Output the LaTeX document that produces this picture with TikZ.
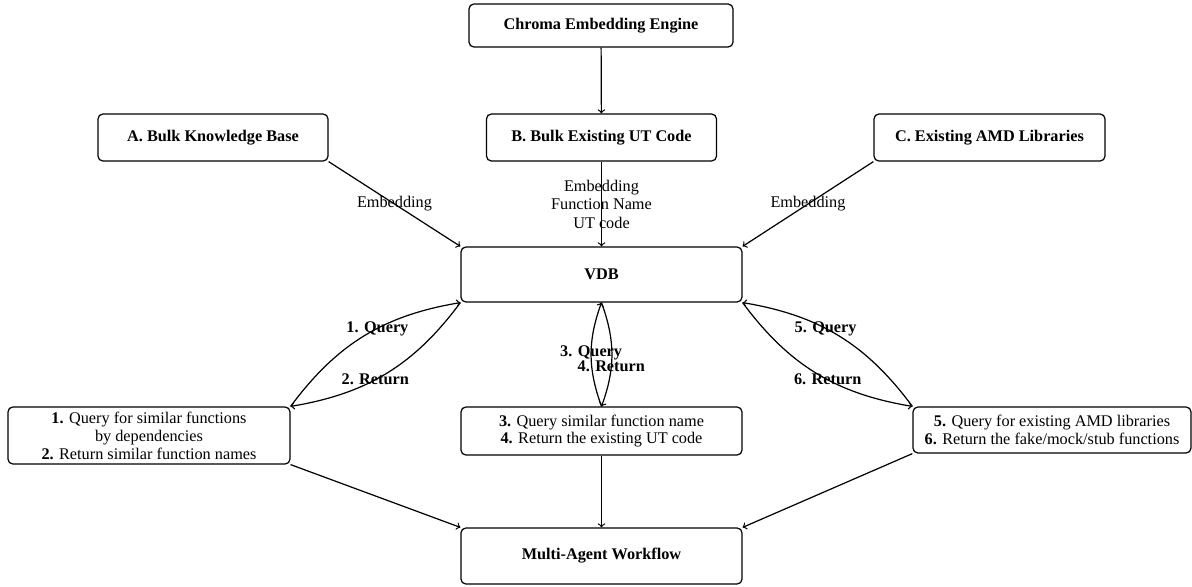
\documentclass[tikz,border=0pt]{standalone}
\usepackage{fontspec}
\setmainfont{Liberation Serif}
\begin{document}
\begin{tikzpicture}[x=0.615pt,y=-0.615pt,
  box/.style={draw, rounded corners=3pt, line width=0.75pt, align=center,
    font=\fontsize{10}{11}\selectfont, inner sep=2pt},
  conn/.style={->, line width=0.75pt},
  lbl/.style={font=\fontsize{10}{11.4}\selectfont, align=center},
  blbl/.style={font=\fontsize{10}{11}\selectfont\bfseries}]
\useasboundingbox (0,0) rectangle (1192,586);
% top row
\node[box, minimum width={264*0.615pt}, minimum height={43*0.615pt}] (chroma) at (601,25.5) {\textbf{Chroma Embedding Engine}};
\node[box, minimum width={230*0.615pt}, minimum height={47*0.615pt}] (kb) at (213,137.5) {\textbf{A. Bulk Knowledge Base}};
\node[box, minimum width={230*0.615pt}, minimum height={47*0.615pt}] (ut) at (601.5,137.5) {\textbf{B. Bulk Existing UT Code}};
\node[box, minimum width={231*0.615pt}, minimum height={47*0.615pt}] (amd) at (989.5,137.5) {\textbf{C. Existing AMD Libraries}};
% VDB
\node[box, minimum width={281*0.615pt}, minimum height={55*0.615pt}] (vdb) at (601.5,274.5) {\textbf{VDB}};
% middle row
\node[box, minimum width={282*0.615pt}, minimum height={57*0.615pt}] (left) at (149,435.5) {\textbf{1.} Query for similar functions\\by dependencies\\\textbf{2.} Return similar function names};
\node[box, minimum width={281*0.615pt}, minimum height={48*0.615pt}] (mid) at (601.5,431) {\textbf{3.} Query similar function name\\\textbf{4.} Return the existing UT code};
\node[box, minimum width={278*0.615pt}, minimum height={46*0.615pt}] (right) at (1052,430) {\textbf{5.} Query for existing AMD libraries\\\textbf{6.} Return the fake/mock/stub functions};
% bottom
\node[box, minimum width={281*0.615pt}, minimum height={56*0.615pt}] (maw) at (601.5,556) {\textbf{Multi-Agent Workflow}};
% connectors
\draw[conn] (chroma) -- (ut);
\draw[conn] (kb.south east) -- node[lbl]{Embedding} (vdb.north west);
\draw[conn] (ut) -- node[lbl]{Embedding\\Function Name\\UT code} (vdb);
\draw[conn] (amd.south west) -- node[lbl]{Embedding} (vdb.north east);
% left pair
\draw[conn] (left.north east) to[bend left=22] node[blbl, pos=0.58]{1. Query} (vdb.south west);
\draw[conn] (vdb.south west) to[bend left=22] node[blbl, pos=0.57]{2. Return} (left.north east);
% middle pair
\draw[conn] (mid.north) to[bend left=20] node[blbl, pos=0.52]{3. Query} (vdb.south);
\draw[conn] (vdb.south) to[bend left=20] node[blbl, pos=0.62]{4. Return} (mid.north);
% right pair
\draw[conn] (right.north west) to[bend right=22] node[blbl, pos=0.58]{5. Query} (vdb.south east);
\draw[conn] (vdb.south east) to[bend right=22] node[blbl, pos=0.57]{6. Return} (right.north west);
% to workflow
\draw[conn] (left.south east) -- (maw.north west);
\draw[conn] (mid) -- (maw);
\draw[conn] (right.south west) -- (maw.north east);
\end{tikzpicture}
\end{document}
